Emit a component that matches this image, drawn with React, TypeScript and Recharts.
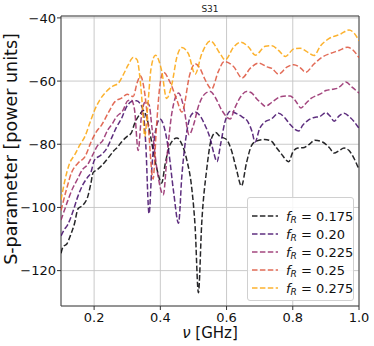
import { CartesianGrid, Line, LineChart, ReferenceArea, XAxis, YAxis } from "recharts"

// [nu (GHz), S-parameter] pairs, one list per resonance frequency f_R
const s175 = [
  [0.1, -114.5], [0.106, -112.5], [0.118, -111.5], [0.128, -109], [0.141, -105], [0.151, -100.5],
  [0.166, -99.3], [0.181, -96.5], [0.19, -92.5], [0.197, -89], [0.21, -88], [0.225, -86.5],
  [0.245, -84], [0.26, -82], [0.27, -81], [0.285, -79], [0.3, -77.5], [0.312, -76.5],
  [0.322, -73.5], [0.338, -70.5], [0.348, -69.3], [0.36, -72], [0.375, -80], [0.39, -88],
  [0.404, -92.3], [0.415, -86], [0.43, -80], [0.45, -78], [0.465, -80], [0.48, -85],
  [0.495, -94], [0.505, -106], [0.515, -127], [0.525, -105], [0.54, -88], [0.555, -78],
  [0.567, -76.3], [0.58, -77.5], [0.6, -78.5], [0.615, -82], [0.63, -88], [0.645, -93.2],
  [0.66, -86], [0.675, -80.5], [0.69, -79], [0.715, -78.5], [0.735, -79], [0.75, -81],
  [0.765, -83], [0.788, -85.5], [0.8, -82.5], [0.815, -81.2], [0.835, -81], [0.85, -80],
  [0.867, -78.7], [0.89, -79.3], [0.91, -81], [0.925, -82.8], [0.94, -82], [0.955, -81.2],
  [0.97, -82], [0.985, -84.5], [1.0, -88],
]

const s200 = [
  [0.1, -109], [0.11, -107], [0.12, -105.5], [0.136, -101.3], [0.151, -96.5], [0.166, -92.8],
  [0.18, -90.5], [0.19, -89], [0.201, -85], [0.221, -83.4], [0.24, -81], [0.255, -77.5],
  [0.268, -74.5], [0.283, -71.8], [0.297, -68.3], [0.315, -66.4], [0.328, -66.2], [0.338, -67],
  [0.348, -69.5], [0.356, -80], [0.366, -102], [0.374, -88], [0.385, -76], [0.399, -72],
  [0.41, -74], [0.425, -82], [0.44, -95], [0.455, -105], [0.465, -90], [0.48, -76],
  [0.493, -70.8], [0.505, -69.8], [0.52, -71], [0.535, -74], [0.55, -78], [0.562, -83],
  [0.571, -85.5], [0.582, -80], [0.595, -73], [0.612, -69.5], [0.628, -70.2], [0.647, -71.3],
  [0.665, -73], [0.677, -76], [0.686, -79.3], [0.7, -75], [0.715, -73], [0.735, -72],
  [0.757, -70.2], [0.775, -71.5], [0.79, -73.5], [0.818, -75.8], [0.83, -74], [0.845, -72.5],
  [0.865, -71.5], [0.88, -71.3], [0.9, -70], [0.912, -71], [0.925, -72.7], [0.94, -71],
  [0.955, -70.2], [0.97, -71.2], [0.985, -72.8], [1.0, -75],
]

const s225 = [
  [0.1, -104], [0.11, -101], [0.12, -98], [0.135, -94], [0.15, -91], [0.165, -88],
  [0.18, -86.5], [0.195, -83.5], [0.21, -80.5], [0.225, -79], [0.241, -75.5], [0.255, -73.5],
  [0.267, -71.4], [0.287, -69.3], [0.302, -66.2], [0.312, -66], [0.322, -69], [0.333, -82],
  [0.343, -71], [0.355, -66.5], [0.366, -67.5], [0.375, -75], [0.39, -88], [0.409, -96],
  [0.42, -84], [0.435, -70], [0.455, -63.8], [0.47, -68], [0.487, -77], [0.5, -74],
  [0.515, -68], [0.535, -64], [0.551, -63.3], [0.565, -65], [0.586, -69.3], [0.611, -72],
  [0.625, -68.5], [0.645, -64.6], [0.66, -63.3], [0.675, -63.7], [0.69, -65.5], [0.705, -67],
  [0.717, -68], [0.737, -66.7], [0.762, -65], [0.792, -64.7], [0.808, -66.2], [0.825, -68.5],
  [0.84, -67], [0.855, -65.5], [0.885, -64], [0.9, -63], [0.92, -62.6], [0.935, -62.3],
  [0.945, -61.5], [0.96, -60.3], [0.98, -62], [1.0, -63.8],
]

const s250 = [
  [0.1, -101], [0.116, -94.5], [0.131, -89.2], [0.151, -86], [0.172, -84], [0.192, -79],
  [0.207, -76], [0.222, -74], [0.242, -70.2], [0.263, -66.5], [0.283, -65.4], [0.3, -64.2],
  [0.318, -64.9], [0.33, -60.5], [0.34, -58.4], [0.351, -62.5], [0.363, -73.5], [0.378, -91],
  [0.388, -75], [0.398, -62], [0.409, -57.2], [0.429, -60.3], [0.45, -66], [0.465, -69.8],
  [0.49, -57.5], [0.505, -54.5], [0.52, -56], [0.535, -59.5], [0.555, -62.5], [0.575, -57],
  [0.593, -53.8], [0.621, -55.4], [0.647, -59], [0.672, -55.9], [0.697, -54.3], [0.722, -55.5],
  [0.737, -56], [0.757, -57.8], [0.782, -55.6], [0.803, -54.8], [0.823, -55.8], [0.839, -57.2],
  [0.864, -54.6], [0.889, -52.4], [0.915, -51.2], [0.94, -50.3], [0.965, -49.3], [0.98, -50],
  [1.0, -52.6],
]

const s275 = [
  [0.1, -97.6], [0.111, -91.8], [0.126, -86], [0.141, -83.4], [0.157, -80.2], [0.172, -77.6],
  [0.187, -73.3], [0.202, -69.1], [0.217, -66], [0.237, -63.3], [0.258, -61.5], [0.273, -60.7],
  [0.288, -58], [0.303, -54.9], [0.318, -52.5], [0.33, -53.3], [0.338, -58.6], [0.346, -68],
  [0.353, -77.5], [0.362, -68], [0.372, -56], [0.385, -51.8], [0.404, -56.7], [0.419, -65.5],
  [0.435, -60.9], [0.45, -52.4], [0.465, -49.4], [0.485, -51.4], [0.505, -57.8], [0.525, -51.4],
  [0.551, -47.3], [0.581, -51.4], [0.596, -53.3], [0.621, -49.3], [0.643, -47.7], [0.667, -49.3],
  [0.687, -51.8], [0.717, -49], [0.737, -48.8], [0.757, -50.3], [0.778, -52.2], [0.803, -49.8],
  [0.823, -49.6], [0.84, -50.5], [0.864, -51.9], [0.884, -48.8], [0.909, -46.6], [0.945, -45.1],
  [0.97, -43.8], [0.985, -44.8], [1.0, -47.2],
]

const fR = ["0.175", "0.20", "0.225", "0.25", "0.275"]
const colors = ["#000004", "#420a68", "#932667", "#dd513a", "#fca50a"]
const xTicks = [0.2, 0.4, 0.6, 0.8, 1.0]
const yTicks = [-120, -100, -80, -60, -40]

const series = [s175, s200, s225, s250, s275].map((pts) => pts.map(([nu, s]) => ({ nu, s })))

const font = "DejaVu Sans, sans-serif"
const dash = "5.5 2.4"

function YLabel() {
  return (
    <text x={11} y={149} transform="rotate(-90 11 149)" textAnchor="middle" dominantBaseline="central"
      fontSize={17.5} fill="#111" fontFamily={font}>
      S-parameter [power units]
    </text>
  )
}

function XLabel() {
  return (
    <text x={210} y={333} textAnchor="middle" dominantBaseline="central" fontSize={15} fill="#111" fontFamily={font}>
      <tspan fontStyle="italic">ν</tspan> [GHz]
    </text>
  )
}

function LegendBox() {
  return (
    <div
      style={{
        position: "absolute", left: 247, top: 197, width: 107, height: 104, boxSizing: "border-box",
        border: "1px solid #d0d0d0", borderRadius: 3, background: "rgba(255,255,255,0.85)",
        fontFamily: font, fontSize: 13, color: "#111", paddingTop: 9, whiteSpace: "nowrap",
      }}
    >
      {fR.map((f, i) => (
        <div key={f} style={{ display: "flex", alignItems: "center", height: 18, marginLeft: 4, lineHeight: 1 }}>
          <svg width={26} height={4} style={{ marginRight: 8, flex: "none" }}>
            <line x1={0} y1={2} x2={26} y2={2} stroke={colors[i]} strokeOpacity={0.85} strokeWidth={1.5} strokeDasharray={dash} />
          </svg>
          <span style={{ whiteSpace: "nowrap" }}>
            <i>f</i>
            <sub style={{ fontSize: 9, lineHeight: 0, verticalAlign: "-0.25em" }}><i>R</i></sub>
            {" = " + f}
          </span>
        </div>
      ))}
    </div>
  )
}

export default function App() {
  return (
    <div style={{ position: "absolute", left: 0, top: 0, width: 374, height: 346, background: "#fff" }}>
      <div style={{ position: "absolute", left: 0, top: 4, width: 420, textAlign: "center", fontFamily: font, fontSize: 9, color: "#222" }}>
        S31
      </div>
      <LineChart width={374} height={346} margin={{ top: 16, right: 15, left: 0, bottom: 0 }}>
        <CartesianGrid stroke="#c4c4c4" strokeWidth={0.9} />
        <XAxis
          dataKey="nu"
          type="number"
          domain={[0.1, 1.0]}
          ticks={xTicks}
          allowDataOverflow
          height={40}
          tickSize={4}
          tickMargin={3}
          tickFormatter={(v) => v.toFixed(1)}
          tick={{ fontSize: 13, fill: "#111", fontFamily: font }}
          tickLine={{ stroke: "#333" }}
          axisLine={false}
          label={{ content: () => <XLabel /> }}
        />
        <YAxis
          type="number"
          domain={[-131.2, -39.4]}
          ticks={yTicks}
          allowDataOverflow
          width={61}
          tickSize={4}
          tickMargin={1}
          tickFormatter={(v) => String(v).replace("-", "\u2212")}
          tick={{ fontSize: 13, fill: "#111", fontFamily: font }}
          tickLine={{ stroke: "#333" }}
          axisLine={false}
          label={{ content: () => <YLabel /> }}
        />
        <ReferenceArea x1={0.1} x2={1.0} y1={-131.2} y2={-39.4} fill="none" stroke="#444" strokeWidth={1} />
        {series.map((data, i) => (
          <Line
            key={fR[i]}
            data={data}
            dataKey="s"
            type="monotone"
            stroke={colors[i]}
            strokeOpacity={0.85}
            strokeWidth={1.5}
            strokeDasharray={dash}
            dot={false}
            isAnimationActive={false}
          />
        ))}
      </LineChart>
      <LegendBox />
    </div>
  )
}
